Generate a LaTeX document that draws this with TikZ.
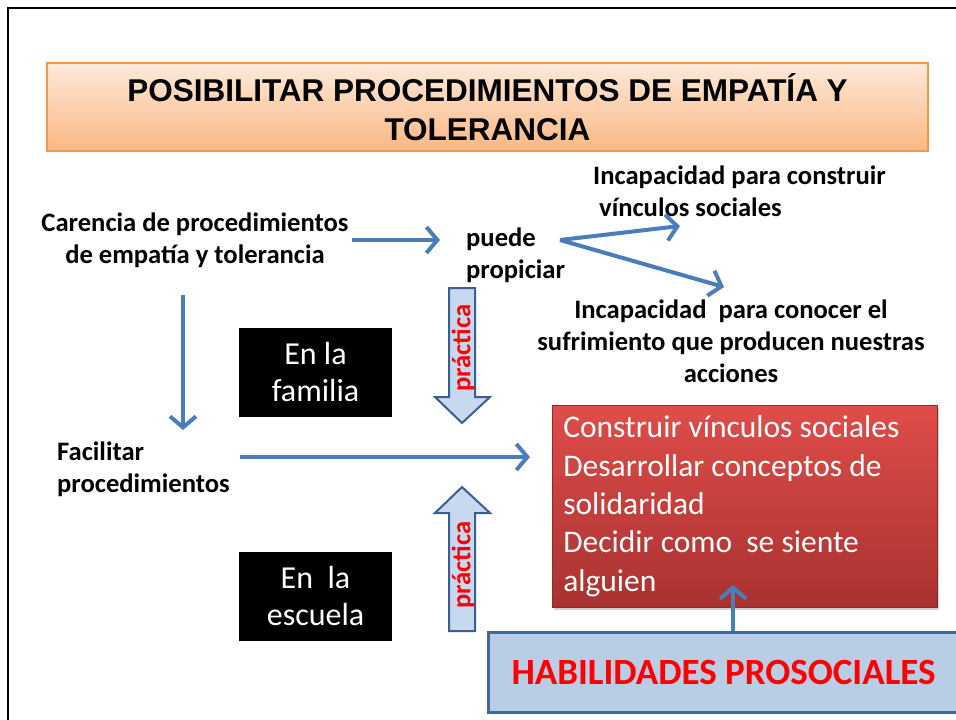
\documentclass[tikz,border=0pt]{standalone}
\usepackage{fontspec}
\setmainfont{Carlito}
\newfontfamily\arialf{Liberation Sans}
\usetikzlibrary{arrows.meta,shadows,calc}
\definecolor{arrblue}{HTML}{4A7EBB}
\definecolor{titletop}{HTML}{FDE9DA}
\definecolor{titlebot}{HTML}{FBB883}
\definecolor{titleline}{HTML}{F79646}
\definecolor{redtop}{HTML}{DF4D4A}
\definecolor{redbot}{HTML}{A83230}
\definecolor{blkfill}{HTML}{C6D9F1}
\definecolor{blkline}{HTML}{3A5F8E}
\definecolor{habfill}{HTML}{B9CDE5}
\definecolor{habline}{HTML}{41689A}
\definecolor{pured}{HTML}{FF0000}
\tikzset{
  arr/.style={draw=arrblue, line width=4pt, -{Straight Barb[length=11pt,width=26pt]}},
  btxt/.style={font=\bfseries\fontsize{26.6}{31.8}\selectfont, align=center, inner sep=0pt},
  blackbox/.style={fill=black, text=white, minimum width=153pt, minimum height=89pt,
    font=\fontsize{32}{37}\selectfont, align=center, inner sep=0pt},
  titlebox/.style={draw=titleline, line width=1.5pt, top color=titletop, bottom color=titlebot,
    font=\arialf\bfseries\fontsize{31.5}{39}\selectfont, align=center, inner sep=0pt},
  redbox/.style={draw=redbot!85!black, line width=0.6pt, top color=redtop, bottom color=redbot,
    drop shadow={shadow xshift=2pt, shadow yshift=-3pt, opacity=0.35},
    text=white, font=\fontsize{31.5}{38.3}\selectfont, align=flush left, inner xsep=11pt, inner ysep=0pt},
  blockarrow/.style={draw=blkline, fill=blkfill, line width=2pt, line join=miter},
  practxt/.style={text=pured, font=\bfseries\fontsize{26.6}{30}\selectfont, rotate=90, inner sep=0pt},
  habbox/.style={draw=habline, fill=habfill, line width=2.5pt, inner sep=0pt},
  habtxt/.style={text=pured, font=\bfseries\fontsize{37}{42}\selectfont, inner sep=0pt}
}
\begin{document}
\begin{tikzpicture}[x=1pt,y=-1pt]
\clip (0,0) rectangle (956,720);
\fill[white] (0,0) rectangle (956,720);
\draw[line width=2.5pt] (8,725) -- (8,8) -- (965,8);

% title
\node[titlebox, minimum width=881pt, minimum height=88pt] (title) at (487.5,107)
  {POSIBILITAR PROCEDIMIENTOS DE EMPATÍA Y\\TOLERANCIA};

% texts
\node[btxt] (car) at (195,240) {Carencia de procedimientos\\de empatía y tolerancia};
\node[btxt, align=left, anchor=west] (puede) at (466,255) {puede\\propiciar};
\node[btxt, align=left, anchor=west] (inc1) at (593,191) {Incapacidad para construir\\\hspace*{6pt}vínculos sociales};
\node[btxt] (inc2) at (731,341) {Incapacidad\ \ para conocer el\\sufrimiento que producen nuestras\\acciones};
\node[btxt, align=left, anchor=west] (fac) at (57,469) {Facilitar\\procedimientos};

% black boxes
\node[blackbox] (fam) at (315.5,372.5) {En la\\familia};
\node[blackbox] (esc) at (315.5,596) {En\ \ la\\escuela};

% red box
\node[redbox, text width=363pt, minimum height=202pt, anchor=north west] (red) at (552,405)
  {Construir vínculos sociales\\Desarrollar conceptos de\\solidaridad\\Decidir como\ \ se siente\\alguien};

% habilidades box
\node[habbox, minimum width=500pt, minimum height=80pt, anchor=north west] (hab) at (487,631) {};
\node[habtxt] (habt) at (723.5,672) {HABILIDADES PROSOCIALES};

% block arrows
\draw[blockarrow] (449,288) -- (475,288) -- (475,397) -- (490,397) -- (462,423) -- (435,397) -- (449,397) -- cycle;
\node[practxt] (prac1) at (463,348) {práctica};
\draw[blockarrow] (449,631) -- (475,631) -- (475,513) -- (490,513) -- (462,487) -- (435,513) -- (449,513) -- cycle;
\node[practxt] (prac2) at (463,565) {práctica};

% connector end points
\coordinate (carE) at (352,240);
\coordinate (puW) at (440,240);
\coordinate (puE) at (560,240);
\coordinate (inc1S) at (680,226);
\coordinate (inc2N) at (724,287);
\coordinate (carS) at (183,295);
\coordinate (facN) at (183,430);
\coordinate (facE) at (240,457);
\coordinate (redW) at (530,457);
\coordinate (habN) at (733,631);
\coordinate (redS) at (733,585);

% connectors
\draw[arr] (carE) -- (puW);
\draw[arr] (puE) -- (inc1S);
\draw[arr] (puE) -- (inc2N);
\draw[arr] (carS) -- (facN);
\draw[arr] (facE) -- (redW);
\draw[arr] (habN) -- (redS);
\end{tikzpicture}
\end{document}
